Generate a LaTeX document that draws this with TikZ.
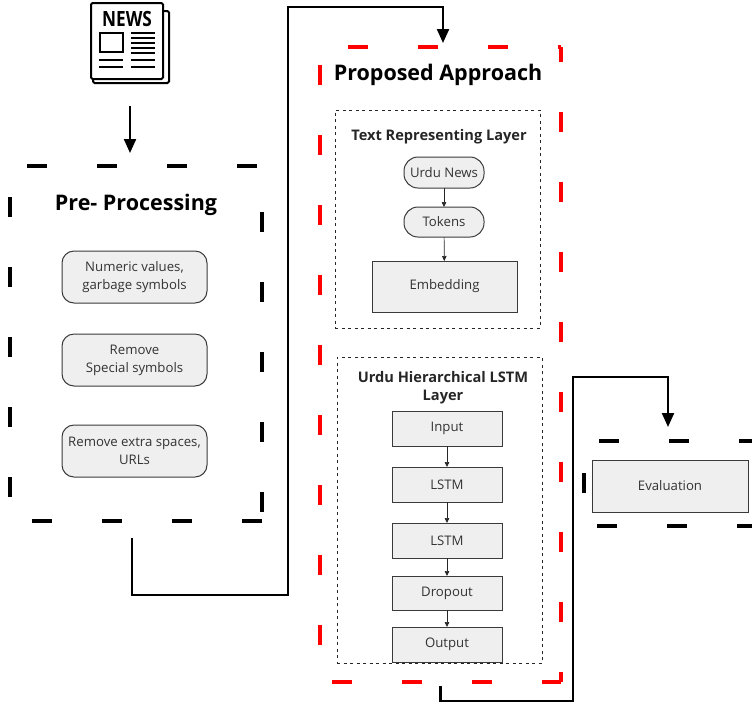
\documentclass[tikz,border=0pt]{standalone}
\usepackage{fontspec}
\setmainfont{Open Sans}
\usetikzlibrary{arrows.meta}
\definecolor{boxfill}{HTML}{EFEFEF}
\definecolor{boxline}{HTML}{3A3A3A}
\definecolor{txtgray}{HTML}{333333}
\definecolor{dashred}{HTML}{FF0000}
\begin{document}
\begin{tikzpicture}[x=1pt,y=-1pt,
  every node/.style={inner sep=0pt,outer sep=0pt},
  frame/.style={draw=none,rectangle},
  bigdash/.style={line width=4pt,dash pattern=on 20pt off 50pt},
  reddash/.style={bigdash,draw=dashred},
  thindash/.style={draw=black!85,line width=0.9pt,dash pattern=on 3pt off 3.5pt},
  bigtitle/.style={font=\fontsize{21.5}{24}\selectfont\bfseries},
  subtitle/.style={font=\fontsize{14.6}{18}\selectfont\bfseries,text=black!85,align=center},
  pill/.style={draw=boxline,fill=boxfill,line width=1pt,rounded corners=12pt,text=txtgray,
    font=\fontsize{13.2}{18}\selectfont,align=center},
  flowbox/.style={draw=boxline,fill=boxfill,line width=1pt,text=txtgray,
    font=\fontsize{13.2}{18}\selectfont,align=center},
  conn/.style={line width=2.2pt,line join=miter},
  bigarrow/.style={conn,-{Triangle[length=14pt,width=12pt]}},
  smallarrow/.style={line width=0.7pt,draw=black!85,-{Triangle[length=5pt,width=4.5pt]}}
]
\useasboundingbox (0,0) rectangle (752,705);
\clip (0,0) rectangle (752,705);

% ---------- newspaper icon ----------
\node[frame,minimum width=80pt,minimum height=82pt] (news) at (130,43) {};
\draw[line width=2pt,rounded corners=1.5pt] (163,11) -- (169,11) -- (169,83) -- (93,83) -- (93,79);
\draw[line width=2pt,fill=white,rounded corners=1.5pt] (91,3) rectangle (163,79);
\node[font=\fontsize{21}{21}\selectfont\bfseries,xscale=0.82,anchor=center] (newstxt) at (127,18.5) {NEWS};
\draw[line width=2pt] (100,33) rectangle (123,52);
\foreach \yy in {33,38,43,48,53} \draw[line width=1.8pt] (131,\yy) -- (155,\yy);
\foreach \yy in {60,67} {\draw[line width=1.8pt] (99,\yy) -- (123,\yy); \draw[line width=1.8pt] (131,\yy) -- (155,\yy);}

% ---------- pre-processing ----------
\node[frame,minimum width=252pt,minimum height=355pt] (pre) at (136,343.5) {};
\draw[bigdash,dash phase=53pt] (pre.north west) -- (pre.north east);
\draw[bigdash,dash phase=48pt] (pre.south west) -- (pre.south east);
\draw[bigdash,dash phase=39pt] (pre.north west) -- (pre.south west);
\draw[bigdash,dash phase=24pt] (pre.north east) -- (pre.south east);
\node[bigtitle] (pretitle) at (136,205) {Pre- Processing};
\node[pill,minimum width=145pt,minimum height=52pt] (p1) at (134.5,277) {Numeric values,\\garbage symbols};
\node[pill,minimum width=145pt,minimum height=52pt] (p2) at (134.5,360) {Remove\\Special symbols};
\node[pill,minimum width=145pt,minimum height=52pt] (p3) at (134.5,451) {Remove extra spaces,\\URLs};

\path (news.south |- pre.north) coordinate (newsin);
\draw[bigarrow] ([yshift=-22pt]news.south) -- ([yshift=13pt]newsin);

% ---------- proposed approach ----------
\node[frame,minimum width=241pt,minimum height=635pt] (prop) at (440.5,364.5) {};
\draw[reddash,dash phase=42pt] (prop.north west) -- (prop.north east);
\draw[reddash,dash phase=58pt] (prop.south west) -- (prop.south east);
\draw[reddash,dash phase=52pt] (prop.north west) -- (prop.south west);
\draw[reddash,dash phase=5pt] (prop.north east) -- (prop.south east);
\node[bigtitle] (proptitle) at (438,75) {Proposed Approach};

% text representing layer
\node[frame,thindash,draw,minimum width=205pt,minimum height=218pt] (trl) at (437.5,219) {};
\node[subtitle] (trltitle) at (439,137) {Text Representing Layer};
\node[pill,rounded corners=14pt,minimum width=80pt,minimum height=31pt] (un) at (444,172.5) {Urdu News};
\node[pill,rounded corners=14pt,minimum width=80pt,minimum height=30pt] (tok) at (444,222) {Tokens};
\node[flowbox,minimum width=145pt,minimum height=51pt] (emb) at (444.5,286.5) {Embedding};
\draw[smallarrow] (un) -- (tok);
\draw[smallarrow] (tok) -- (emb);

% hierarchical LSTM layer
\node[frame,thindash,draw,minimum width=205pt,minimum height=306pt] (hl) at (439.5,510) {};
\node[subtitle] (hltitle) at (443,388) {Urdu Hierarchical LSTM\\Layer};
\node[flowbox,minimum width=110pt,minimum height=35pt] (in) at (447,428.5) {Input};
\node[flowbox,minimum width=110pt,minimum height=35pt] (l1) at (447,484.5) {LSTM};
\node[flowbox,minimum width=110pt,minimum height=35pt] (l2) at (447,540.5) {LSTM};
\node[flowbox,minimum width=110pt,minimum height=34pt] (dr) at (447,593) {Dropout};
\node[flowbox,minimum width=110pt,minimum height=35pt] (out) at (447,644.5) {Output};
\draw[smallarrow] (in) -- (l1);
\draw[smallarrow] (l1) -- (l2);
\draw[smallarrow] (l2) -- (dr);
\draw[smallarrow] (dr) -- (out);

% ---------- evaluation ----------
\node[frame,minimum width=168pt,minimum height=85pt] (evb) at (668,483.5) {};
\draw[bigdash,dash phase=55pt] (evb.north west) -- (evb.north east);
\draw[bigdash,dash phase=57pt] (evb.south west) -- (evb.south east);
\draw[bigdash,dash phase=38pt] (evb.north west) -- (evb.south west);
\node[flowbox,minimum width=156pt,minimum height=52pt] (ev) at (670,486) {Evaluation};

% ---------- connectors ----------
\coordinate (c1) at (288,7);
\coordinate (c2) at (573,377);
\draw[bigarrow] ([xshift=-4pt,yshift=-17pt]pre.south) -- ++(0,57) -| (c1) -| ([xshift=2.5pt,yshift=4pt]prop.north);
\draw[bigarrow] ([yshift=-4pt]prop.south) -- ++(0,15) -| (c2) -| ([yshift=14pt]evb.north);
\end{tikzpicture}
\end{document}
